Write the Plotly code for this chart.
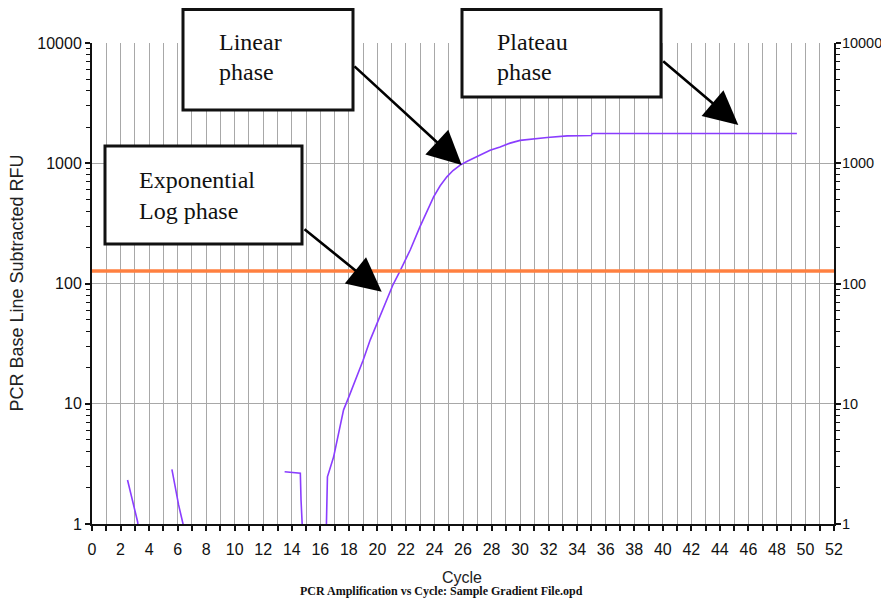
import plotly.graph_objects as go

# ---------------- data ----------------
cycle = [2.49, 3.2, 3.4, None,
         5.6, 6.07, 6.38, 6.6, None,
         13.5, 14.6, 14.65, 14.76, 14.85, None,
         16.42, 16.44, 16.5, 16.93, 17.3, 17.63, 18.0, 18.5, 19.0, 19.5, 20.08, 20.6,
         21.1, 21.6, 22.3, 22.98, 23.5, 23.94, 24.4, 24.87, 25.3, 25.8, 26.3,
         26.8, 27.2, 27.9, 28.6, 29.3, 30.0, 31.0, 31.9, 33.3, 35.0, 35.05, 49.4]
rfu = [2.32, 1.04, 0.6, None,
       2.85, 1.44, 1.0, 0.6, None,
       2.72, 2.64, 1.58, 0.95, 0.5, None,
       0.9, 1.53, 2.47, 3.6, 6.0, 8.9, 11.4, 16, 23, 34, 50, 73,
       98, 128, 190, 296, 400, 526, 650, 771, 870, 964, 1040,
       1110, 1167, 1280, 1368, 1470, 1550, 1600, 1637, 1690, 1700, 1770, 1770]

threshold_x = [0, 52]
threshold_y = [127, 127]

x_ticks = list(range(0, 53, 2))
y_ticks = [1, 10, 100, 1000, 10000]
y_labels = ["1", "10", "100", "1000", "10000"]
y_minor = [m * d for d in [1, 10, 100, 1000] for m in range(2, 10)]

# ---------------- layout geometry helpers ----------------
# the page body adds an 8px margin on each side, so work in window pixels and
# compensate (height kept so the page does not scroll)
OFF = 8
W, H = 889 - OFF, 606 - 2 * OFF
PL, PR, PT, PB = 92, 834, 43, 524          # plot area in window pixels
L, T = PL - OFF, PT - OFF
R, B = W - (PR - OFF), H - (PB - OFF)
PW, PH = PR - PL, PB - PT


def px(x):
    return (x - PL) / PW


def py(y):
    return (PB - y) / PH


tick_font = dict(family="Liberation Sans, Arial, sans-serif", size=16, color="#111")
grid = "#a8a8a8"

fig = go.Figure()
fig.add_trace(go.Scatter(x=cycle, y=rfu, mode="lines", connectgaps=False,
                         line=dict(color="#8a3dff", width=1.6),
                         showlegend=False, hoverinfo="skip"))
fig.add_trace(go.Scatter(x=threshold_x, y=threshold_y, mode="lines", yaxis="y2",
                         line=dict(color="#ff8040", width=3.5), showlegend=False,
                         hoverinfo="skip"))

yax_common = dict(type="log", range=[0, 4], tickmode="array", tickvals=y_ticks,
                  ticktext=y_labels, ticks="outside", ticklen=5, tickwidth=1.5,
                  tickcolor="#111", showline=True, linecolor="#111", linewidth=2,
                  zeroline=False, fixedrange=True,
                  minor=dict(tickmode="array", tickvals=y_minor, ticks="outside",
                             ticklen=4, tickwidth=1.2, tickcolor="#111", showgrid=False))

fig.update_layout(
    width=W, height=H,
    margin=dict(l=L, r=R, t=T, b=B, autoexpand=False),
    paper_bgcolor="white", plot_bgcolor="white",
    showlegend=False,
    xaxis=dict(range=[0, 52], tickmode="array", tickvals=x_ticks,
               ticks="outside", ticklen=5, tickwidth=1.5, tickcolor="#111",
               showline=True, linecolor="#111", linewidth=2,
               showgrid=True, gridcolor=grid, gridwidth=1,
               tickfont=tick_font, ticklabelstandoff=5, zeroline=False,
               minor=dict(dtick=1, tick0=0, ticks="outside", ticklen=5,
                          tickwidth=1.5, tickcolor="#111",
                          showgrid=True, gridcolor=grid, gridwidth=1)),
    yaxis=dict(**yax_common, tickfont=tick_font, showgrid=True, gridcolor=grid,
               gridwidth=1, ticklabelstandoff=0),
    yaxis2=dict(**yax_common, tickfont=dict(tick_font, size=14.5), overlaying="y",
                side="right", showgrid=False, ticklabelstandoff=-2),
)

serif = "Liberation Serif, Times New Roman, serif"
box_font = dict(family=serif, size=24, color="#111")

boxes = [
    (183, 353, 9.5, 110),   # Linear
    (462, 661, 9.5, 97),    # Plateau
    (105, 302, 146, 244),   # Exponential
]
for x0, x1, y0, y1 in boxes:
    fig.add_shape(type="rect", xref="paper", yref="paper",
                  x0=px(x0), x1=px(x1), y0=py(y1), y1=py(y0),
                  line=dict(color="#111", width=3), fillcolor="white", layer="above")

texts = [
    ("Linear", 217, 42), ("phase", 217, 72),
    ("Plateau", 495, 42), ("phase", 495, 72),
    ("Exponential", 137, 180), ("Log phase", 137, 211),
]
for t, x, y in texts:
    fig.add_annotation(text=t, xref="paper", yref="paper", x=px(x), y=py(y),
                       xanchor="left", yanchor="middle", showarrow=False,
                       font=box_font)

# arrows: tip (pixel), tail (pixel)
arrows = [
    ((461.7, 165), (353, 65)),
    ((381.7, 291.7), (303, 228)),
    ((738.3, 125), (661.7, 60)),
]
for (tx, ty), (sx, sy) in arrows:
    fig.add_annotation(text="", xref="paper", yref="paper", x=px(tx), y=py(ty),
                       ax=sx - tx, ay=sy - ty, axref="pixel", ayref="pixel",
                       showarrow=True, arrowhead=2, arrowsize=2.6, arrowwidth=2.6,
                       arrowcolor="#000")

# axis titles and caption
fig.add_annotation(text="PCR Base Line Subtracted RFU", xref="paper", yref="paper",
                   x=px(16), y=py(283.5), textangle=-90, showarrow=False,
                   xanchor="center", yanchor="middle",
                   font=dict(family="Liberation Sans, Arial, sans-serif", size=18, color="#222"))
fig.add_annotation(text="Cycle", xref="paper", yref="paper",
                   x=px(462), y=py(577), showarrow=False,
                   xanchor="center", yanchor="middle",
                   font=dict(family="Liberation Sans, Arial, sans-serif", size=16, color="#222"))
fig.add_annotation(text="<b>PCR Amplification vs Cycle: Sample Gradient File.opd</b>",
                   xref="paper", yref="paper", x=px(441.5), y=py(591),
                   showarrow=False, xanchor="center", yanchor="middle",
                   font=dict(family=serif, size=12, color="#111"))

fig.write_html("out.html")
